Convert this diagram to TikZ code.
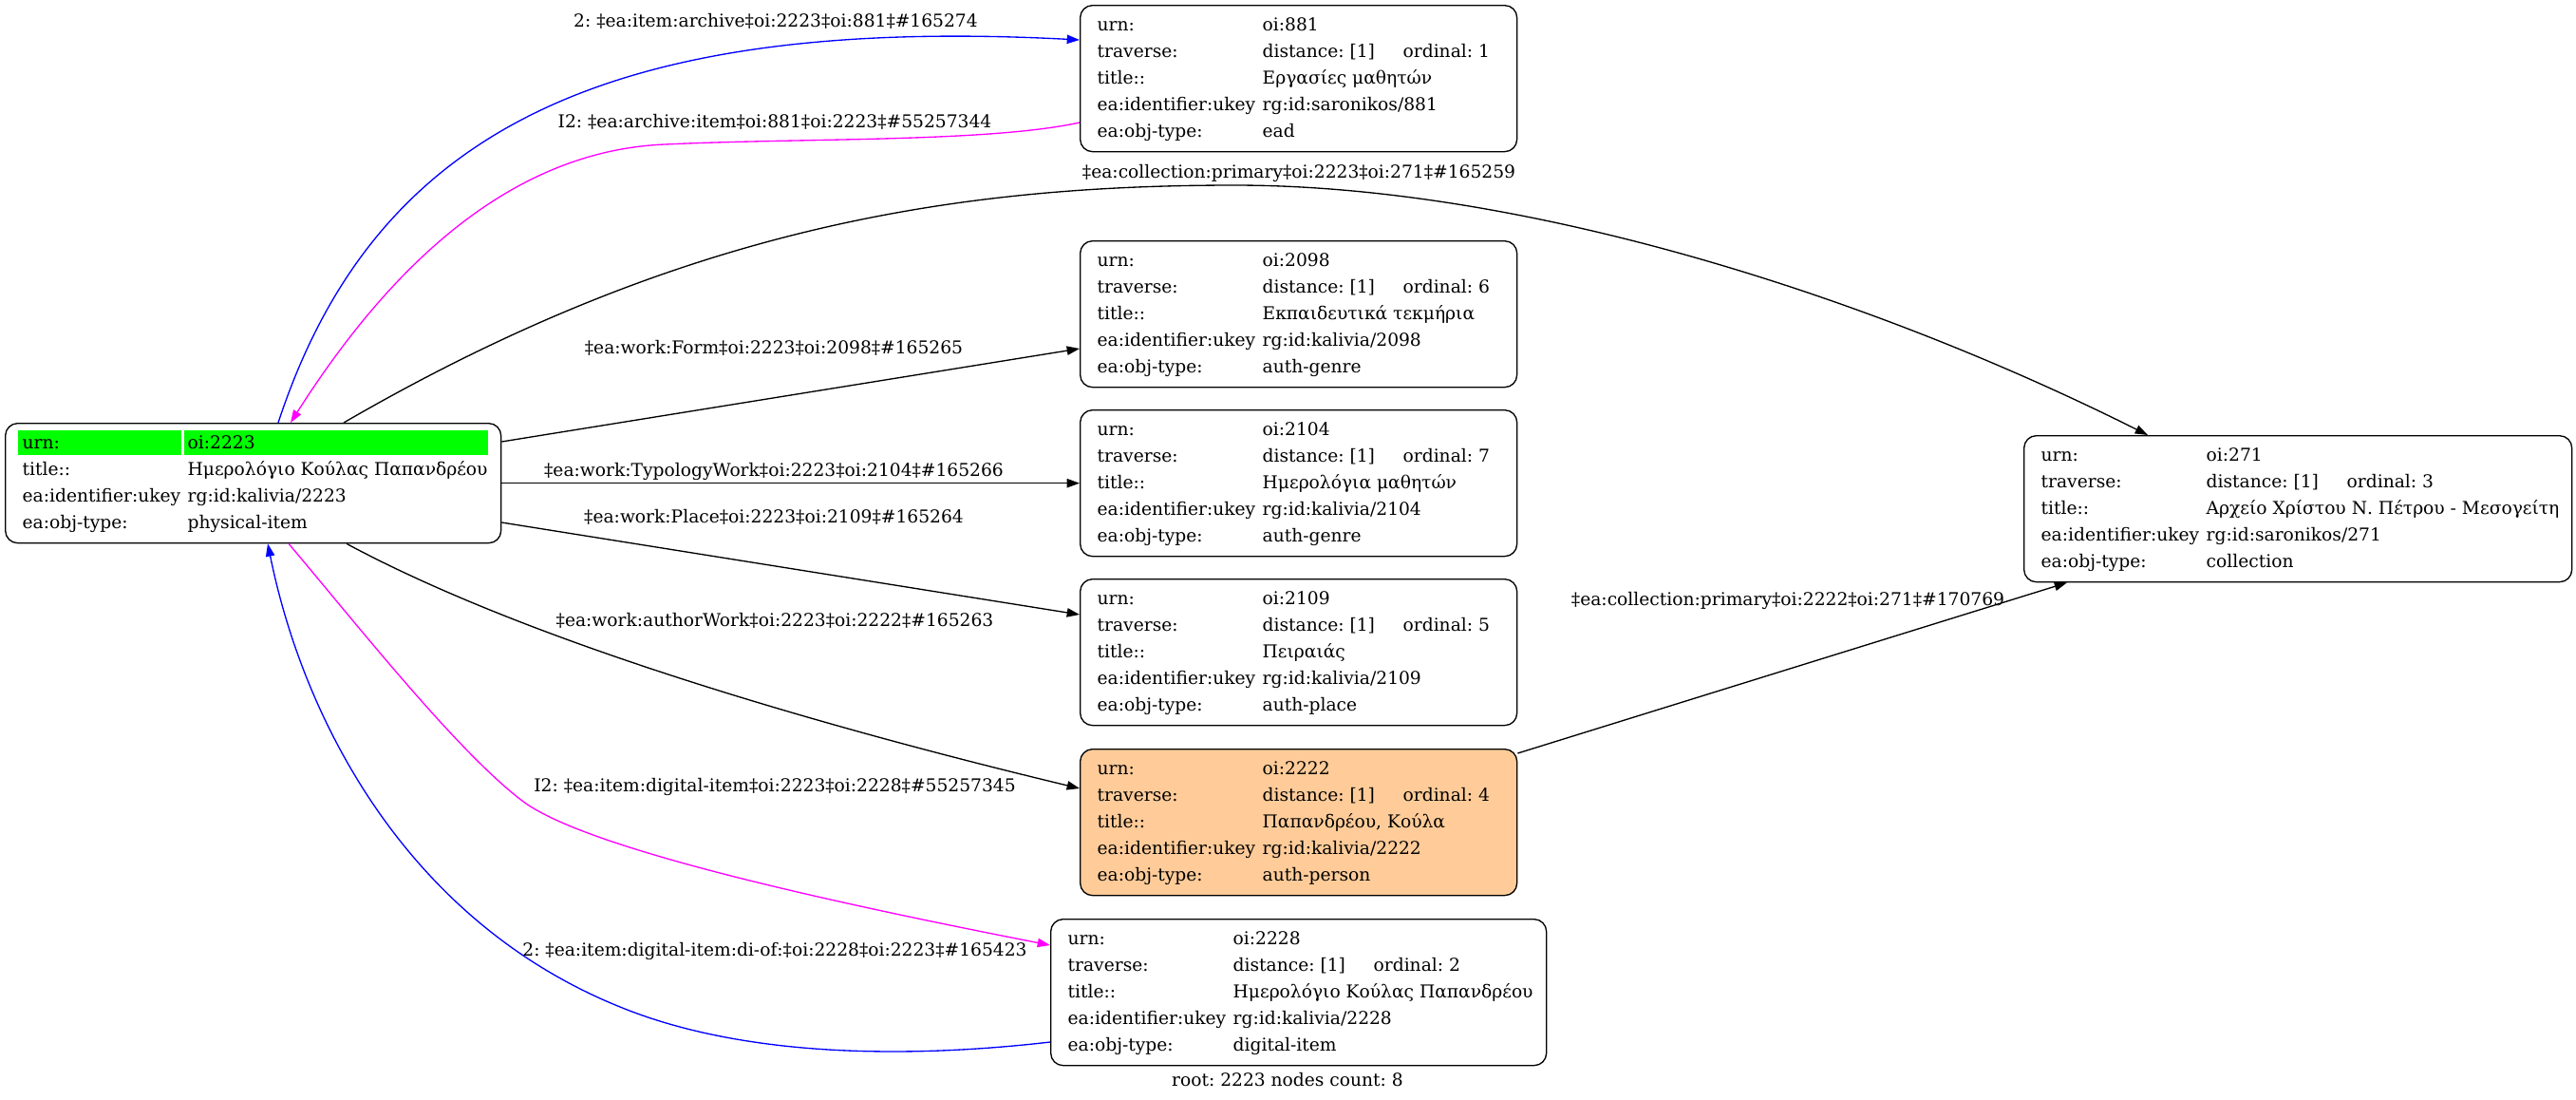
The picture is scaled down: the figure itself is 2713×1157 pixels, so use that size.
\documentclass[tikz,border=0pt]{standalone}
\usepackage{fontspec}
\setmainfont{DejaVu Serif}
\usetikzlibrary{arrows.meta,calc}
\definecolor{peach}{HTML}{FFCC99}
\definecolor{edgemag}{RGB}{255,0,255}
\definecolor{edgeblue}{RGB}{0,0,255}
\definecolor{rowgreen}{RGB}{0,255,0}
\frenchspacing
\newcommand\cardtab[2]{\def\cardvalw{#1}\begin{tabular}{@{}l@{}l@{}}#2\end{tabular}}
\newcommand\rw[2]{\makebox[130.5pt][l]{#1}&\makebox[\cardvalw][l]{#2}\\}
\newcommand\trav[1]{\makebox[111pt][l]{distance: [1]}ordinal: #1}
\begin{document}
\begin{tikzpicture}[x=0.75pt,y=-0.75pt,
  card/.style={draw, rounded corners=9.75pt, line width=1pt, inner xsep=13.5pt, inner ysep=5.25pt, anchor=north west, font=\fontsize{14pt}{21pt}\selectfont\frenchspacing},
  elabel/.style={font=\fontsize{14pt}{21pt}\selectfont\frenchspacing, inner sep=0pt},
  conn/.style={line width=1pt, -{Triangle[length=10pt,width=7pt]}},
  blueconn/.style={conn, draw=edgeblue},
  magconn/.style={conn, draw=edgemag}]
\useasboundingbox (0,0) rectangle (2713,1157);
% green highlight of the root row
\fill[rowgreen] (19,453) rectangle (191,479);
\fill[rowgreen] (194,453) rectangle (514,479);
% nodes
\node[card] (root) at (5,445) {\cardtab{234pt}{%
  \rw{urn:}{oi:2223}%
  \rw{title::}{Ημερολόγιο Κούλας Παπανδρέου}%
  \rw{ea:identifier:ukey}{rg:id:kalivia/2223}%
  \rw{ea:obj-type:}{physical-item}}};
\node[card] (n881) at (1137,5) {\cardtab{187.5pt}{%
  \rw{urn:}{oi:881}%
  \rw{traverse:}{\trav{1}}%
  \rw{title::}{Εργασίες μαθητών}%
  \rw{ea:identifier:ukey}{rg:id:saronikos/881}%
  \rw{ea:obj-type:}{ead}}};
\node[card] (n2098) at (1137,253) {\cardtab{187.5pt}{%
  \rw{urn:}{oi:2098}%
  \rw{traverse:}{\trav{6}}%
  \rw{title::}{Εκπαιδευτικά τεκμήρια}%
  \rw{ea:identifier:ukey}{rg:id:kalivia/2098}%
  \rw{ea:obj-type:}{auth-genre}}};
\node[card] (n2104) at (1137,431) {\cardtab{187.5pt}{%
  \rw{urn:}{oi:2104}%
  \rw{traverse:}{\trav{7}}%
  \rw{title::}{Ημερολόγια μαθητών}%
  \rw{ea:identifier:ukey}{rg:id:kalivia/2104}%
  \rw{ea:obj-type:}{auth-genre}}};
\node[card] (n2109) at (1137,609) {\cardtab{187.5pt}{%
  \rw{urn:}{oi:2109}%
  \rw{traverse:}{\trav{5}}%
  \rw{title::}{Πειραιάς}%
  \rw{ea:identifier:ukey}{rg:id:kalivia/2109}%
  \rw{ea:obj-type:}{auth-place}}};
\node[card, fill=peach] (n2222) at (1137,788) {\cardtab{187.5pt}{%
  \rw{urn:}{oi:2222}%
  \rw{traverse:}{\trav{4}}%
  \rw{title::}{Παπανδρέου, Κούλα}%
  \rw{ea:identifier:ukey}{rg:id:kalivia/2222}%
  \rw{ea:obj-type:}{auth-person}}};
\node[card] (n2228) at (1106,967) {\cardtab{234pt}{%
  \rw{urn:}{oi:2228}%
  \rw{traverse:}{\trav{2}}%
  \rw{title::}{Ημερολόγιο Κούλας Παπανδρέου}%
  \rw{ea:identifier:ukey}{rg:id:kalivia/2228}%
  \rw{ea:obj-type:}{digital-item}}};
\node[card] (n271) at (2131,458) {\cardtab{275.25pt}{%
  \rw{urn:}{oi:271}%
  \rw{traverse:}{\trav{3}}%
  \rw{title::}{Αρχείο Χρίστου Ν. Πέτρου - Μεσογείτη}%
  \rw{ea:identifier:ukey}{rg:id:saronikos/271}%
  \rw{ea:obj-type:}{collection}}};
% connectors
\draw[blueconn] ($(root.north west)+(288,0)$) .. controls (390,150) and (620,15) .. ($(n881.north west)+(0,37)$)
  node[elabel] at (817,22) {2: ‡ea:item:archive‡oi:2223‡oi:881‡\#165274};
\draw[magconn] ($(n881.north west)+(0,124)$) .. controls (1040,150) and (850,145) .. (700,152)
  .. controls (560,158) and (430,250) .. ($(root.north west)+(301,0)$)
  node[elabel] at (816,128) {I2: ‡ea:archive:item‡oi:881‡oi:2223‡\#55257344};
\draw[conn] ($(root.north west)+(357,0)$) .. controls (712,242) and (1000,195) .. (1300,195)
  .. controls (1600,195) and (1962,308) .. ($(n271.north west)+(131,0)$)
  node[elabel] at (1368,182) {‡ea:collection:primary‡oi:2223‡oi:271‡\#165259};
\draw[conn] ($(root.north east)+(0,20)$) -- ($(n2098.north west)+(0,114)$)
  node[elabel] at (815,366) {‡ea:work:Form‡oi:2223‡oi:2098‡\#165265};
\draw[conn] (root.east) -- (n2104.west)
  node[elabel] at (815,496) {‡ea:work:TypologyWork‡oi:2223‡oi:2104‡\#165266};
\draw[conn] ($(root.north east)+(0,105)$) -- ($(n2109.north west)+(0,38)$)
  node[elabel] at (815,544) {‡ea:work:Place‡oi:2223‡oi:2109‡\#165264};
\draw[conn] ($(root.south west)+(360,0)$) .. controls (565,680) and (887,770) .. ($(n2222.north west)+(0,42)$)
  node[elabel] at (816,653) {‡ea:work:authorWork‡oi:2223‡oi:2222‡\#165263};
\draw[magconn] ($(root.south west)+(299,0)$) .. controls (370,650) and (480,790) .. (550,843)
  .. controls (613,891) and (850,945) .. ($(n2228.north west)+(0,28)$)
  node[elabel] at (816,828) {I2: ‡ea:item:digital-item‡oi:2223‡oi:2228‡\#55257345};
\draw[blueconn] ($(n2228.north west)+(0,130)$) .. controls (950,1115) and (780,1112) .. (653,1060)
  .. controls (430,970) and (320,760) .. ($(root.south west)+(277,0)$)
  node[elabel] at (816,1001) {2: ‡ea:item:digital-item:di-of:‡oi:2228‡oi:2223‡\#165423};
\draw[conn] ($(n2222.north east)+(0,5)$) -- ($(n271.south west)+(46,0)$)
  node[elabel] at (1883,632) {‡ea:collection:primary‡oi:2222‡oi:271‡\#170769};
\node[elabel] (caption) at (1356,1137) {root: 2223 nodes count: 8};
\end{tikzpicture}
\end{document}
